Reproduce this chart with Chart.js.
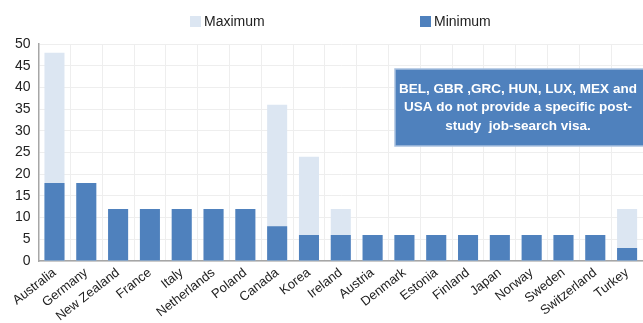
<!DOCTYPE html>
<html>
<head>
<meta charset="utf-8">
<script src="https://cdn.jsdelivr.net/npm/chart.js@4.4.0/dist/chart.umd.min.js"></script>
<style>
  body { margin: 0; background: #fff; }
  #wrap { position: relative; width: 643px; height: 323px; }
</style>
</head>
<body>
<div id="wrap"><canvas id="visaChart" width="643" height="323"></canvas></div>
<script>
var countries = ["Australia", "Germany", "New Zealand", "France", "Italy", "Netherlands", "Poland", "Canada", "Korea", "Ireland", "Austria", "Denmark", "Estonia", "Finland", "Japan", "Norway", "Sweden", "Switzerland", "Turkey"];
var maxMonths = [48, 18, 12, 12, 12, 12, 12, 36, 24, 12, 6, 6, 6, 6, 6, 6, 6, 6, 12];
var minMonths = [18, 18, 12, 12, 12, 12, 12, 8, 6, 6, 6, 6, 6, 6, 6, 6, 6, 6, 3];
var yTicks = [0, 5, 10, 15, 20, 25, 30, 35, 40, 45, 50];
var noteLines = ["BEL, GBR ,GRC, HUN, LUX, MEX and", "USA do not provide a specific post-", "study  job-search visa."];

var darkBlue = "#4f81bd";
var lightBlue = "#dce6f2";
var fontName = "'Liberation Sans', Arial, sans-serif";

// legend + note box drawn on the canvas
var extras = {
  id: "extras",
  afterDraw: function(chart) {
    var ctx = chart.ctx;
    ctx.save();
    // legend
    var items = [{ x: 190, ds: chart.data.datasets[0] }, { x: 420, ds: chart.data.datasets[1] }];
    ctx.font = "14px " + fontName;
    ctx.textBaseline = "middle";
    ctx.textAlign = "left";
    items.forEach(function(it) {
      ctx.fillStyle = it.ds.backgroundColor;
      ctx.fillRect(it.x, 16, 11, 11);
      ctx.fillStyle = "#222";
      ctx.fillText(it.ds.label, it.x + 14, 22);
    });
    // note box
    ctx.fillStyle = darkBlue;
    ctx.strokeStyle = "#a9c1df";
    ctx.lineWidth = 1.5;
    ctx.fillRect(395, 69, 250, 77);
    ctx.strokeRect(395, 69, 250, 77);
    ctx.fillStyle = "#fff";
    ctx.font = "bold 13.5px " + fontName;
    ctx.textAlign = "center";
    noteLines.forEach(function(t, i) {
      ctx.fillText(t, 518, 89 + i * 18.5);
    });
    ctx.restore();
  }
};

new Chart("visaChart", {
  type: "bar",
  data: {
    labels: countries,
    datasets: [{
      label: "Maximum",
      data: maxMonths,
      backgroundColor: lightBlue,
      order: 2
    }, {
      label: "Minimum",
      data: minMonths,
      backgroundColor: darkBlue,
      order: 1
    }]
  },
  options: {
    responsive: false,
    animation: false,
    layout: { padding: { top: 44, right: 0, left: 7, bottom: 0 } },
    datasets: { bar: { grouped: false, barPercentage: 0.63, categoryPercentage: 1 } },
    plugins: {
      legend: { display: false },
      tooltip: { enabled: false }
    },
    scales: {
      x: {
        grid: { color: "#eeeeee", drawTicks: false },
        border: { color: "#a6a6a6", width: 1.5 },
        afterFit: function(axis) { axis.height = 62; },
        ticks: {
          color: "#222",
          font: { family: fontName, size: 13 },
          minRotation: 38,
          maxRotation: 38,
          autoSkip: false,
          padding: 4
        }
      },
      y: {
        min: 0,
        max: 50,
        afterBuildTicks: function(axis) {
          axis.ticks = yTicks.map(function(v) { return { value: v }; });
        },
        grid: { color: "#eeeeee", drawTicks: false },
        border: { color: "#a6a6a6", width: 1.5 },
        ticks: {
          color: "#222",
          font: { family: fontName, size: 14 },
          padding: 8
        }
      }
    }
  },
  plugins: [extras]
});
</script>
</body>
</html>
